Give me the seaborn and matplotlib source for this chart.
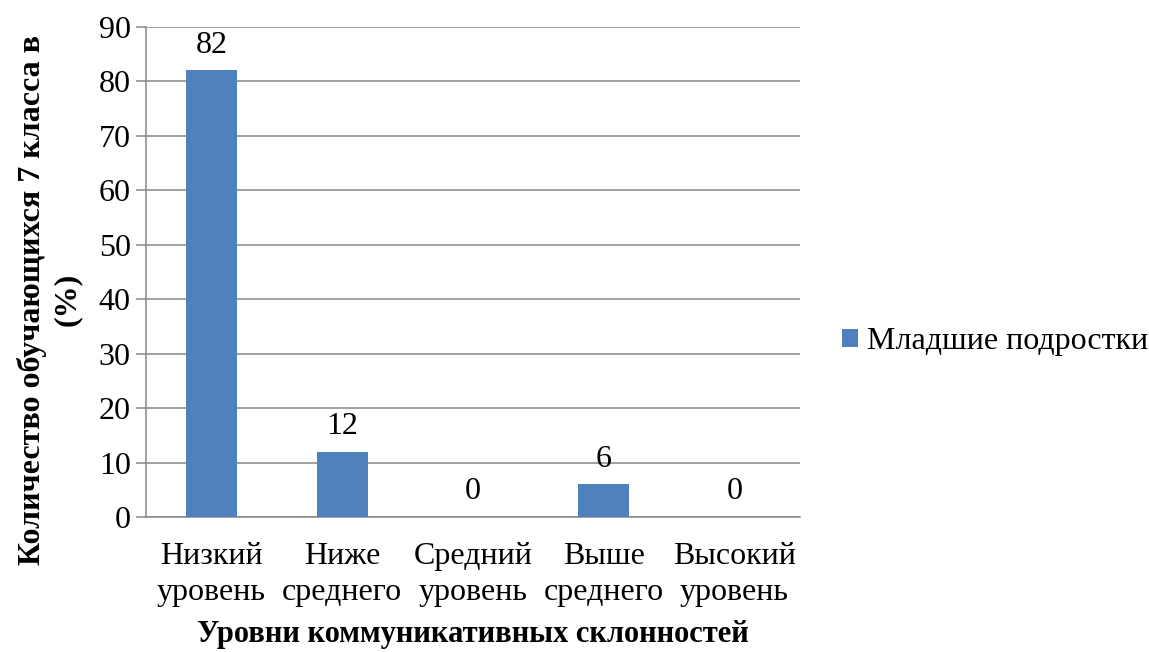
import matplotlib
matplotlib.use("Agg")
import matplotlib.pyplot as plt
import seaborn as sns
import pandas as pd

categories = ["Низкий\nуровень", "Ниже\nсреднего", "Средний\nуровень", "Выше\nсреднего", "Высокий\nуровень"]
values = [82, 12, 0, 6, 0]
series_name = "Младшие подростки"

sns.set_style("white")
plt.rcParams['font.family'] = ['Liberation Serif', 'DejaVu Serif']
plt.rcParams['text.color'] = 'black'
plt.rcParams['axes.labelcolor'] = 'black'
plt.rcParams['xtick.color'] = 'black'
plt.rcParams['ytick.color'] = 'black'

df = pd.DataFrame({"cat": categories, "val": values, "series": series_name})

fig = plt.figure(figsize=(11.49, 6.52), dpi=100)
ax = fig.add_axes([0.127, 0.207, 0.569, 0.752])

sns.barplot(data=df, x="cat", y="val", hue="series", palette=["#4F81BD"],
            width=0.39, ax=ax, saturation=1, edgecolor="none", zorder=3)

# подписи значений
for i, v in enumerate(values):
    ax.text(i, v + 4.6, str(v), ha="center", va="center", fontsize=23)

ax.set_ylim(0, 90)
ax.set_xlim(-0.5, 4.5)
ax.set_yticks(range(0, 91, 10))
ax.yaxis.grid(True, color="#868686", linewidth=1.1, zorder=0)
ax.set_axisbelow(True)
for s in ["top", "right"]:
    ax.spines[s].set_visible(False)
ax.spines["left"].set_color("#868686")
ax.spines["bottom"].set_color("#868686")
ax.spines["left"].set_linewidth(1.1)
ax.spines["bottom"].set_linewidth(1.1)
ax.tick_params(axis="y", length=7, width=1.1, color="#868686", labelcolor="black",
               labelsize=23, pad=4, left=True)
ax.tick_params(axis="x", length=0, labelsize=23, pad=18, labelcolor="black")
for lbl in ax.get_xticklabels():
    lbl.set_linespacing(1.3)

ax.set_xlabel("Уровни коммуникативных склонностей", fontsize=22, fontweight="bold")
ax.xaxis.set_label_coords(0.5, -0.21)
ax.set_ylabel("Количество обучающихся 7 класса в\n(%)", fontsize=23, fontweight="bold",
              linespacing=1.25)
ax.yaxis.set_label_coords(-0.098, 0.443)

ax.legend(loc="center left", bbox_to_anchor=(1.02, 0.357), frameon=False,
          fontsize=23, handlelength=0.5, handleheight=0.5, handletextpad=0.3)

fig.savefig("out.png", dpi=100)
